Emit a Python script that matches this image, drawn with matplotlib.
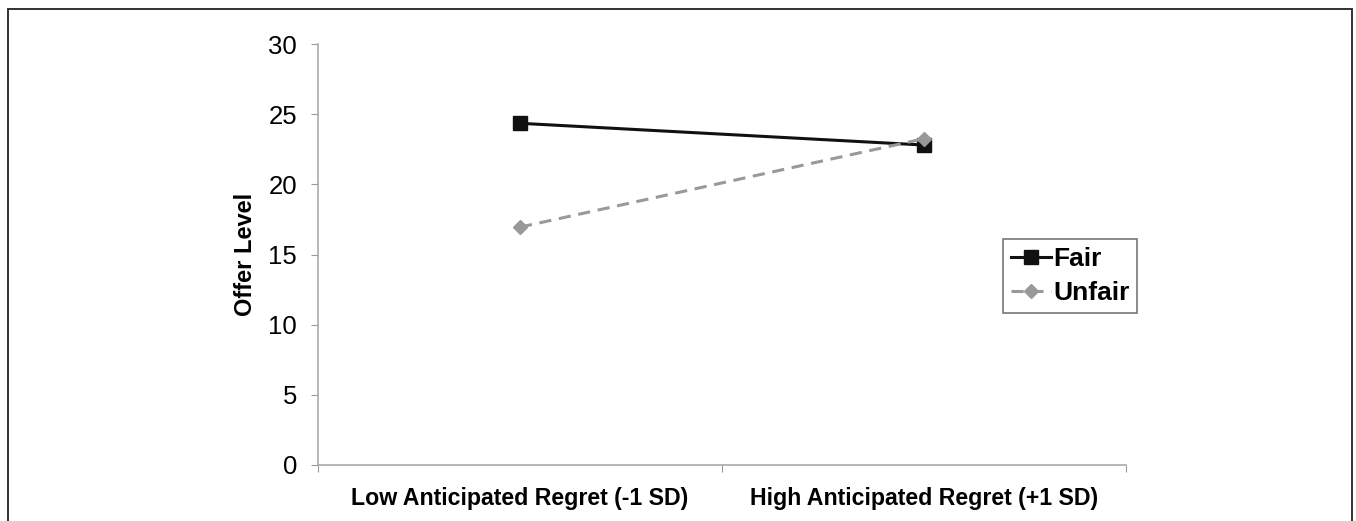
import matplotlib
matplotlib.use("Agg")
import matplotlib.pyplot as plt
from matplotlib.patches import Rectangle

plt.rcParams['font.family'] = ['Liberation Sans', 'DejaVu Sans']

categories = ['Low Anticipated Regret (-1 SD)', 'High Anticipated Regret (+1 SD)']
fair = [24.35, 22.8]
unfair = [16.95, 23.25]
yticks = [0, 5, 10, 15, 20, 25, 30]

fig = plt.figure(figsize=(13.56, 5.21), dpi=100)
# outer frame
fig.patches.append(Rectangle((8/1356, -0.1), (1352-8)/1356, 1.1 - 9/521,
                             transform=fig.transFigure, fill=False,
                             edgecolor='#222222', linewidth=1.3))

ax = fig.add_axes([318/1356, 1 - 465/521, (1126-318)/1356, (465-44)/521])

xpos = [0.5, 1.5]
ax.plot(xpos, fair, color='#111111', linewidth=2.2, marker='s', markersize=10,
        label='Fair')
ax.plot(xpos, unfair, color='#999999', linewidth=2.2, linestyle=(0, (4, 2.5)),
        marker='D', markersize=7, label='Unfair')

ax.set_xlim(0, 2)
ax.set_ylim(0, 30)
ax.set_yticks(yticks)
ax.set_yticklabels([str(t) for t in yticks], fontsize=18.5)
ax.set_xticks([0, 1, 2])
ax.set_xticklabels([])
ax.set_xticks(xpos, minor=True)
ax.set_xticklabels(categories, minor=True, fontsize=16.7, fontweight='bold')
ax.tick_params(axis='x', which='minor', length=0, pad=16)
ax.tick_params(axis='x', which='major', length=5, color='#999999', direction='out')
ax.tick_params(axis='y', length=5, color='#999999', direction='out', pad=10)

for s in ['top', 'right']:
    ax.spines[s].set_visible(False)
for s in ['left', 'bottom']:
    ax.spines[s].set_color('#aaaaaa')
    ax.spines[s].set_linewidth(1.2)

ax.set_ylabel('Offer Level', fontsize=17, fontweight='bold', labelpad=8)

leg = ax.legend(loc='upper left', bbox_to_anchor=((1003-318)/808, (465-239)/421),
                frameon=True, fancybox=False, edgecolor='#555555',
                prop={'size': 19, 'weight': 'bold'}, handlelength=1.5,
                handletextpad=0.1, borderpad=0.3, labelspacing=0.4,
                borderaxespad=0)
leg.get_frame().set_linewidth(1.2)

fig.savefig('out.png', dpi=100)
